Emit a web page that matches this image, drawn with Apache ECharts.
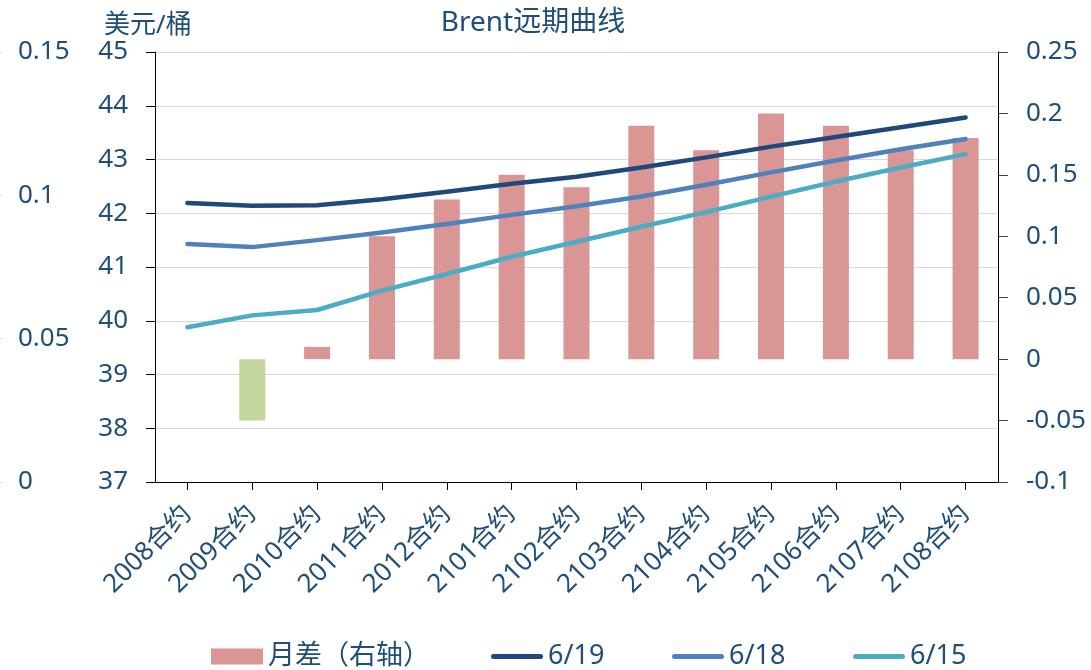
<!DOCTYPE html>
<html>
<head>
<meta charset="utf-8">
<script src="https://cdn.jsdelivr.net/npm/echarts@6/dist/echarts.min.js"></script>
<style>
html,body{margin:0;padding:0;background:#fff;}
#chart{width:1091px;height:670px;}
</style>
</head>
<body>
<div id="chart"></div>
<script>
const categories = ['2008合约','2009合约','2010合约','2011合约','2012合约','2101合约','2102合约','2103合约','2104合约','2105合约','2106合约','2107合约','2108合约'];
const spread = [null, -0.05, 0.01, 0.10, 0.13, 0.15, 0.14, 0.19, 0.17, 0.20, 0.19, 0.17, 0.18];
const s0619 = [42.19, 42.14, 42.15, 42.26, 42.40, 42.55, 42.68, 42.85, 43.04, 43.24, 43.42, 43.60, 43.78];
const s0618 = [41.43, 41.37, 41.50, 41.64, 41.80, 41.97, 42.13, 42.31, 42.53, 42.76, 42.98, 43.19, 43.38];
const s0615 = [39.88, 40.10, 40.20, 40.56, 40.87, 41.19, 41.47, 41.75, 42.02, 42.31, 42.59, 42.85, 43.10];
const seriesNames = ['月差（右轴）', '6/19', '6/18', '6/15'];
const titleText = 'Brent远期曲线';
const unitText = '美元/桶';

const FONT = "'Noto Sans', 'Noto Sans CJK SC', sans-serif";
const TXT = '#1F4E79';
const POS = '#D99694', NEG = '#C3D69B';
const LINE_ICON = 'path://M2.5,0H49.5A2.5,2.5 0 0 1 49.5,5H2.5A2.5,2.5 0 0 1 2.5,0Z';
const legendLefts = [211, 491, 672, 853];

const chart = echarts.init(document.getElementById('chart'));
chart.setOption({
  animation: false,
  backgroundColor: '#fff',
  textStyle: { fontFamily: FONT, color: TXT },
  title: [
    { text: titleText, left: 528, top: 4, textAlign: 'center',
      textStyle: { fontFamily: FONT, fontSize: 28, fontWeight: 'normal', color: TXT } },
    { text: unitText, left: 99, top: 8,
      textStyle: { fontFamily: FONT, fontSize: 26, fontWeight: 'normal', color: TXT } }
  ],
  grid: { left: 155, right: 93, top: 52, bottom: 188, containLabel: false },
  legend: seriesNames.map((n, i) => ({
    left: legendLefts[i], top: 643, padding: 0, itemWidth: 52, itemHeight: 16,
    symbolKeepAspect: true,
    textStyle: { fontFamily: FONT, fontSize: 27, color: TXT },
    data: [{ name: n, icon: i === 0 ? 'rect' : LINE_ICON }]
  })),
  xAxis: {
    type: 'category', data: categories, boundaryGap: true,
    axisLine: { show: true, onZero: false, lineStyle: { color: '#000', width: 1 } },
    axisTick: { show: true, inside: false, alignWithLabel: true, length: 8, lineStyle: { color: '#000', width: 1 } },
    axisLabel: { rotate: 45, margin: 28, fontSize: 26, color: TXT, fontFamily: FONT, interval: 0 }
  },
  yAxis: [
    { type: 'value', min: 37, max: 45, interval: 1, position: 'left',
      axisLine: { show: true, onZero: false, lineStyle: { color: '#000', width: 1 } },
      axisTick: { show: true, inside: false, length: 9, lineStyle: { color: '#000', width: 1 } },
      axisLabel: { margin: 27, fontSize: 26, color: TXT, fontFamily: FONT },
      splitLine: { show: true, lineStyle: { color: '#D9D9D9', width: 1 } } },
    { type: 'value', min: -0.1, max: 0.25, interval: 0.05, position: 'right',
      axisLine: { show: true, onZero: false, lineStyle: { color: '#000', width: 1 } },
      axisTick: { show: true, inside: false, length: 10, lineStyle: { color: '#404040', width: 1 } },
      axisLabel: { margin: 28, fontSize: 26, color: TXT, fontFamily: FONT },
      splitLine: { show: false } },
    { type: 'value', min: 0, max: 0.15, interval: 0.05, position: 'left', offset: 155,
      axisLine: { show: false },
      axisTick: { show: true, inside: true, length: 3, lineStyle: { color: '#E0E0E0' } },
      axisLabel: { inside: true, margin: 18, fontSize: 26, color: TXT, fontFamily: FONT },
      splitLine: { show: false } }
  ],
  series: [
    { name: seriesNames[0], type: 'bar', yAxisIndex: 1, barWidth: 26,
      itemStyle: { color: POS },
      data: spread.map(v => v === null ? null : { value: v, itemStyle: { color: v < 0 ? NEG : POS } }) },
    { name: seriesNames[1], type: 'line', yAxisIndex: 0, data: s0619, symbol: 'none', z: 5,
      itemStyle: { color: '#1F497D' }, lineStyle: { color: '#1F497D', width: 4.5, cap: 'round', join: 'round' } },
    { name: seriesNames[2], type: 'line', yAxisIndex: 0, data: s0618, symbol: 'none', z: 5,
      itemStyle: { color: '#4F81BD' }, lineStyle: { color: '#4F81BD', width: 4.5, cap: 'round', join: 'round' } },
    { name: seriesNames[3], type: 'line', yAxisIndex: 0, data: s0615, symbol: 'none', z: 5,
      itemStyle: { color: '#4BACC6' }, lineStyle: { color: '#4BACC6', width: 4.5, cap: 'round', join: 'round' } }
  ]
});
</script>
</body>
</html>
